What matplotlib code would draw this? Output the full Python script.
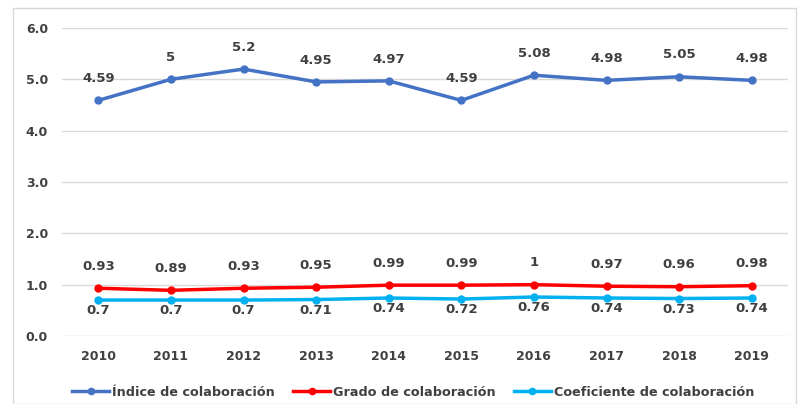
import matplotlib
matplotlib.use("Agg")
import matplotlib.pyplot as plt
from matplotlib.patches import Rectangle

years = ['2010', '2011', '2012', '2013', '2014', '2015', '2016', '2017', '2018', '2019']
indice = [4.59, 5, 5.2, 4.95, 4.97, 4.59, 5.08, 4.98, 5.05, 4.98]
grado = [0.93, 0.89, 0.93, 0.95, 0.99, 0.99, 1, 0.97, 0.96, 0.98]
coef = [0.7, 0.7, 0.7, 0.71, 0.74, 0.72, 0.76, 0.74, 0.73, 0.74]

plt.rcParams['font.family'] = ['DejaVu Sans']
txt = '#404040'

fig = plt.figure(figsize=(7.98, 4.04), dpi=100)
fig.patches.append(Rectangle((13 / 798, 0.0), 1 - 13 / 798 - 0.002, 1 - 8 / 404,
                             transform=fig.transFigure, fill=False,
                             edgecolor='#d9d9d9', linewidth=1))
ax = fig.add_axes([62 / 798, 1 - 336 / 404, (788 - 62) / 798, (336 - 28) / 404])

x = range(len(years))
ax.plot(x, indice, color='#4472C4', marker='o', markersize=5, linewidth=2.5,
        label='Índice de colaboración')
ax.plot(x, grado, color='#FF0000', marker='o', markersize=5, linewidth=2.5,
        label='Grado de colaboración')
ax.plot(x, coef, color='#00B0F0', marker='o', markersize=5, linewidth=2.5,
        label='Coeficiente de colaboración')

for i in x:
    ax.annotate(f'{indice[i]:g}', (i, indice[i]), xytext=(0, 11), textcoords='offset points',
                ha='center', va='bottom', fontsize=9.5, fontweight='bold', color=txt)
    ax.annotate(f'{grado[i]:g}', (i, grado[i]), xytext=(0, 11), textcoords='offset points',
                ha='center', va='bottom', fontsize=9.5, fontweight='bold', color=txt)
    ax.annotate(f'{coef[i]:g}', (i, coef[i]), xytext=(0, -3), textcoords='offset points',
                ha='center', va='top', fontsize=9.5, fontweight='bold', color=txt)

ax.set_xlim(-0.5, len(years) - 0.5)
ax.set_ylim(0, 6)
ax.set_yticks([0, 1, 2, 3, 4, 5, 6])
ax.set_yticklabels([f'{v:.1f}' for v in range(7)])
ax.set_xticks(list(x))
ax.set_xticklabels(years)
ax.tick_params(length=0, labelsize=9, labelcolor=txt, pad=10)
for lab in ax.get_xticklabels() + ax.get_yticklabels():
    lab.set_fontweight('bold')
ax.grid(axis='y', color='#d9d9d9', linewidth=1)
ax.set_axisbelow(True)
for s in ax.spines.values():
    s.set_visible(False)

leg = fig.legend(loc='center', bbox_to_anchor=(0.518, 1 - 392 / 404), ncol=3, frameon=False,
                 fontsize=9.2, handlelength=2.9, columnspacing=1.4, handletextpad=0.25,
                 markerscale=0.9)
for t in leg.get_texts():
    t.set_fontweight('bold')
    t.set_color(txt)

fig.savefig('out.png', dpi=100)
